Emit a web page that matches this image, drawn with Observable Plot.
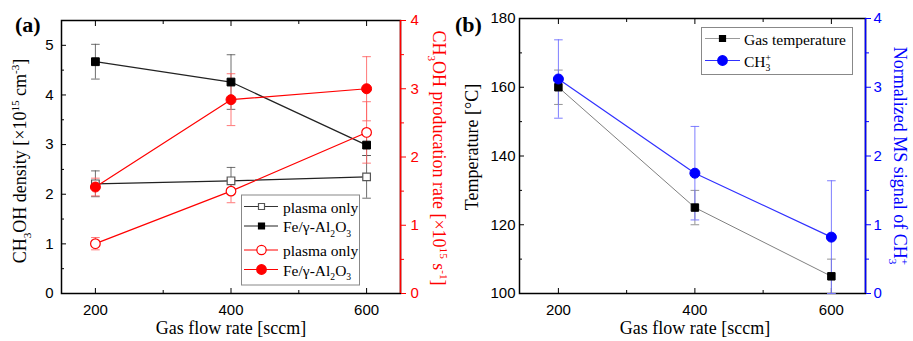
<!DOCTYPE html>
<html><head><meta charset="utf-8">
<script src="https://cdn.jsdelivr.net/npm/d3@7"></script>
<script src="https://cdn.jsdelivr.net/npm/@observablehq/plot@0.6"></script>
<style>
body{margin:0;background:#fff;}
#wrap{position:relative;width:913px;height:341px;overflow:hidden;background:#fff;}
#wrap svg{position:absolute;top:0;overflow:visible;}
text{white-space:pre;}
</style></head><body><div id="wrap"></div>
<script>
// ---------- data ----------
const flowRates = [200, 400, 600];
const xTicksMajor = [200, 400, 600];
const xTicksMinor = [300, 500];

// panel (a)
const densityPlasma = [2.21, 2.27, 2.35];
const densityPlasmaErr = [0.26, 0.27, 0.43];
const densityFe = [4.67, 4.26, 2.99];
const densityFeErr = [0.35, 0.55, 0.21];
const ratePlasma = [0.73, 1.50, 2.36];
const ratePlasmaErr = [0.09, 0.17, 0.45];
const rateFe = [1.56, 2.84, 3.00];
const rateFeErr = [0.13, 0.38, 0.47];
const densityTicks = [0, 1, 2, 3, 4, 5];
const densityMinor = [0.5, 1.5, 2.5, 3.5, 4.5];
const rateTicks = [0, 1, 2, 3, 4];
const rateMinor = [0.5, 1.5, 2.5, 3.5];

// panel (b)
const gasTemp = [160, 125, 105];
const gasTempErr = [5, 5, 5];
const msSignal = [3.12, 1.75, 0.82];
const msSignalErr = [0.57, 0.68, 0.82];
const tempTicks = [100, 120, 140, 160, 180];
const tempMinor = [110, 130, 150, 170];
const msTicks = [0, 1, 2, 3, 4];
const msMinor = [0.5, 1.5, 2.5, 3.5];

// ---------- helpers ----------
function rows(ys, errs, k = 1, off = 0) {
  return flowRates.map((x, i) => ({x, y: off + ys[i] * k, lo: off + (ys[i] - errs[i]) * k, hi: off + (ys[i] + errs[i]) * k}));
}
const capSym = {draw(ctx, size) { const r = Math.sqrt(size / Math.PI); ctx.moveTo(-r, 0); ctx.lineTo(r, 0); }};
function errMarks(data, color, op = 1) {
  return [
    Plot.ruleX(data, {x: "x", y1: "lo", y2: "hi", stroke: color, strokeOpacity: op, strokeWidth: 1}),
    Plot.dot(data, {x: "x", y: "lo", symbol: capSym, r: 4.3, stroke: color, strokeOpacity: op, fill: "none", strokeWidth: 1}),
    Plot.dot(data, {x: "x", y: "hi", symbol: capSym, r: 4.3, stroke: color, strokeOpacity: op, fill: "none", strokeWidth: 1})
  ];
}
const serif = "'Liberation Serif','Times New Roman',serif";
function richText(sel, x, y, parts, o = {}) {
  const size = o.size || 18;
  const t = sel.append("text")
    .attr("transform", `translate(${x},${y})` + (o.rotate ? ` rotate(${o.rotate})` : ""))
    .attr("text-anchor", o.anchor || "start")
    .attr("font-family", serif).attr("font-size", size)
    .attr("fill", o.fill || "#000").attr("font-weight", o.weight || "normal");
  let cur = 0;
  for (const p of parts) {
    const [s, kind, dxEm] = typeof p === "string" ? [p, "n", 0] : p;
    const target = kind === "sub" ? size * 0.3 : kind === "sup" ? -size * 0.38 : 0;
    const ts = t.append("tspan").text(s).attr("dy", target - cur);
    if (kind !== "n") ts.attr("font-size", size * 0.62);
    if (dxEm) ts.attr("dx", dxEm * size);
    cur = target;
  }
  return t;
}
function legendRow(g, x0, x1, xm, y, color, symbol, symSize, fill, stroke, tx, parts) {
  g.append("line").attr("x1", x0).attr("x2", x1).attr("y1", y).attr("y2", y).attr("stroke", color).attr("stroke-width", 1.2);
  g.append("path").attr("d", d3.symbol(symbol, symSize)()).attr("transform", `translate(${xm},${y})`)
    .attr("fill", fill).attr("stroke", stroke).attr("stroke-width", 1.2);
  richText(g, tx, y + 6, parts, {size: 15.5});
}
const axisStyle = {fontFamily: "'Liberation Sans', Arial, sans-serif", fontSize: "15px", color: "#000", background: "transparent", overflow: "visible"};
const intFmt = d => String(Math.round(d));

// ---------- panel (a) ----------
const ka = 5.5 / 4;
const dP = rows(densityPlasma, densityPlasmaErr);
const dF = rows(densityFe, densityFeErr);
const rP = rows(ratePlasma, ratePlasmaErr, ka);
const rF = rows(rateFe, rateFeErr, ka);
const RED = "#ff0000";

const A = Plot.plot({
  width: 450, height: 341, marginLeft: 61, marginRight: 50, marginTop: 20, marginBottom: 48,
  x: {domain: [150, 650]}, y: {domain: [0, 5.5]},
  style: axisStyle,
  marks: [
    Plot.frame({stroke: "#000", strokeWidth: 1.5}),
    Plot.ruleX([650], {stroke: RED, strokeWidth: 1.5}),
    Plot.axisX(xTicksMajor, {anchor: "bottom", tickSize: 0, tickPadding: 11, label: null, tickFormat: intFmt}),
    Plot.axisX(xTicksMajor, {anchor: "bottom", tickSize: -5, fill: "none", label: null}),
    Plot.axisX(xTicksMinor, {anchor: "bottom", tickSize: -3, fill: "none", label: null}),
    Plot.axisX(xTicksMajor, {anchor: "top", tickSize: -5, fill: "none", label: null}),
    Plot.axisX(xTicksMinor, {anchor: "top", tickSize: -3, fill: "none", label: null}),
    Plot.axisY(densityTicks, {anchor: "left", tickSize: 0, tickPadding: 8, label: null, tickFormat: intFmt}),
    Plot.axisY(densityTicks, {anchor: "left", tickSize: -5, fill: "none", label: null}),
    Plot.axisY(densityMinor, {anchor: "left", tickSize: -3, fill: "none", label: null}),
    Plot.axisY(rateTicks.map(v => v * ka), {anchor: "right", tickSize: 0, tickPadding: 10, label: null, color: RED, tickFormat: d => String(Math.round(d / ka))}),
    Plot.axisY(rateTicks.map(v => v * ka), {anchor: "right", tickSize: 5, fill: "none", stroke: RED, label: null}),
    Plot.axisY(rateMinor.map(v => v * ka), {anchor: "right", tickSize: 3, fill: "none", stroke: RED, label: null}),
    ...errMarks(dP, "#555", 0.85),
    ...errMarks(dF, "#555", 0.85),
    ...errMarks(rP, "#ff6060", 0.85),
    ...errMarks(rF, "#ff6060", 0.85),
    Plot.line(dP, {x: "x", y: "y", stroke: "#222", strokeWidth: 1.2}),
    Plot.line(dF, {x: "x", y: "y", stroke: "#222", strokeWidth: 1.2}),
    Plot.line(rP, {x: "x", y: "y", stroke: RED, strokeWidth: 1.2}),
    Plot.line(rF, {x: "x", y: "y", stroke: RED, strokeWidth: 1.2}),
    Plot.dot(dP, {x: "x", y: "y", symbol: "square", r: 4.3, fill: "#fff", stroke: "#555", strokeWidth: 1.2}),
    Plot.dot(dF, {x: "x", y: "y", symbol: "square", r: 4.4, fill: "#000", stroke: "#000", strokeWidth: 1}),
    Plot.dot(rP, {x: "x", y: "y", symbol: "circle", r: 4.8, fill: "#fff", stroke: RED, strokeWidth: 1.2}),
    Plot.dot(rF, {x: "x", y: "y", symbol: "circle", r: 5, fill: RED, stroke: RED, strokeWidth: 1})
  ]
});
A.style.left = "0px";
document.getElementById("wrap").appendChild(A);
{
  const s = d3.select(A);
  richText(s, 15, 32, ["(a)"], {size: 22, weight: "bold"});
  richText(s, 231, 334, ["Gas flow rate [sccm]"], {anchor: "middle"});
  richText(s, 26, 161, ["CH", ["3", "sub"], "OH density [×10", ["15", "sup"], " cm", ["-3", "sup"], "]"], {rotate: -90, anchor: "middle"});
  richText(s, 433, 158, ["CH", ["3", "sub"], "OH producation rate [×10", ["15", "sup"], " s", ["-1", "sup"], "]"], {rotate: 90, anchor: "middle", fill: RED});
  const g = s.append("g");
  g.append("rect").attr("x", 241.5).attr("y", 195).attr("width", 118).attr("height", 90).attr("fill", "#fff").attr("stroke", "#888").attr("stroke-width", 1);
  legendRow(g, 244, 278, 261.5, 206.5, "#333", d3.symbolSquare, 36, "#fff", "#555", 283, ["plasma only"]);
  legendRow(g, 244, 278, 261.5, 226, "#222", d3.symbolSquare, 36, "#000", "#000", 283, ["Fe/γ-Al", ["2", "sub"], "O", ["3", "sub"]]);
  legendRow(g, 244, 278, 261.5, 250, RED, d3.symbolCircle, 68, "#fff", RED, 283, ["plasma only"]);
  legendRow(g, 244, 278, 261.5, 269.5, RED, d3.symbolCircle, 72, RED, RED, 283, ["Fe/γ-Al", ["2", "sub"], "O", ["3", "sub"]]);
}

// ---------- panel (b) ----------
const kb = 20, ob = 100;
const tT = rows(gasTemp, gasTempErr);
const mS = rows(msSignal, msSignalErr, kb, ob);
const BLUE = "#0000ff";
const B = Plot.plot({
  width: 463, height: 341, marginLeft: 69, marginRight: 48, marginTop: 18, marginBottom: 48,
  x: {domain: [143, 650]}, y: {domain: [100, 180]},
  style: axisStyle,
  marks: [
    Plot.frame({stroke: "#000", strokeWidth: 1.5}),
    Plot.ruleX([650], {stroke: BLUE, strokeWidth: 1.5}),
    Plot.axisX(xTicksMajor, {anchor: "bottom", tickSize: 0, tickPadding: 11, label: null, tickFormat: intFmt}),
    Plot.axisX(xTicksMajor, {anchor: "bottom", tickSize: -5, fill: "none", label: null}),
    Plot.axisX(xTicksMinor, {anchor: "bottom", tickSize: -3, fill: "none", label: null}),
    Plot.axisX(xTicksMajor, {anchor: "top", tickSize: -5, fill: "none", label: null}),
    Plot.axisX(xTicksMinor, {anchor: "top", tickSize: -3, fill: "none", label: null}),
    Plot.axisY(tempTicks, {anchor: "left", tickSize: 0, tickPadding: 4, label: null, tickFormat: intFmt}),
    Plot.axisY(tempTicks, {anchor: "left", tickSize: -5, fill: "none", label: null}),
    Plot.axisY(tempMinor, {anchor: "left", tickSize: -3, fill: "none", label: null}),
    Plot.axisY(msTicks.map(v => ob + v * kb), {anchor: "right", tickSize: 0, tickPadding: 8, label: null, color: BLUE, tickFormat: d => String(Math.round((d - ob) / kb))}),
    Plot.axisY(msTicks.map(v => ob + v * kb), {anchor: "right", tickSize: 5, fill: "none", stroke: BLUE, label: null}),
    Plot.axisY(msMinor.map(v => ob + v * kb), {anchor: "right", tickSize: 3, fill: "none", stroke: BLUE, label: null}),
    ...errMarks(tT, "#888", 0.9),
    ...errMarks(mS, "#7070ff", 0.9),
    Plot.line(tT, {x: "x", y: "y", stroke: "#808080", strokeWidth: 1}),
    Plot.line(mS, {x: "x", y: "y", stroke: "#3030ff", strokeWidth: 1.2}),
    Plot.dot(tT, {x: "x", y: "y", symbol: "square", r: 4.2, fill: "#000", stroke: "#000", strokeWidth: 1}),
    Plot.dot(mS, {x: "x", y: "y", symbol: "circle", r: 5, fill: BLUE, stroke: BLUE, strokeWidth: 1})
  ]
});
B.style.left = "450px";
document.getElementById("wrap").appendChild(B);
{
  const s = d3.select(B);
  richText(s, 5, 32, ["(b)"], {size: 22, weight: "bold"});
  richText(s, 245, 334, ["Gas flow rate [sccm]"], {anchor: "middle"});
  richText(s, 28, 147, ["Temperature [°C]"], {rotate: -90, anchor: "middle"});
  richText(s, 444, 156, ["Normalized MS signal of CH", ["+", "sup"], ["3", "sub", -0.35]], {rotate: 90, anchor: "middle", fill: BLUE});
  const g = s.append("g");
  g.append("rect").attr("x", 251.5).attr("y", 27.5).attr("width", 151).attr("height", 47).attr("fill", "#fff").attr("stroke", "#888").attr("stroke-width", 1);
  legendRow(g, 255, 290, 272.5, 38.5, "#999", d3.symbolSquare, 36, "#000", "#000", 294, ["Gas temperature"]);
  legendRow(g, 255, 290, 272.5, 60.5, "#3030ff", d3.symbolCircle, 72, BLUE, BLUE, 294, ["CH", ["+", "sup"], ["3", "sub", -0.35]]);
}
</script></body></html>
